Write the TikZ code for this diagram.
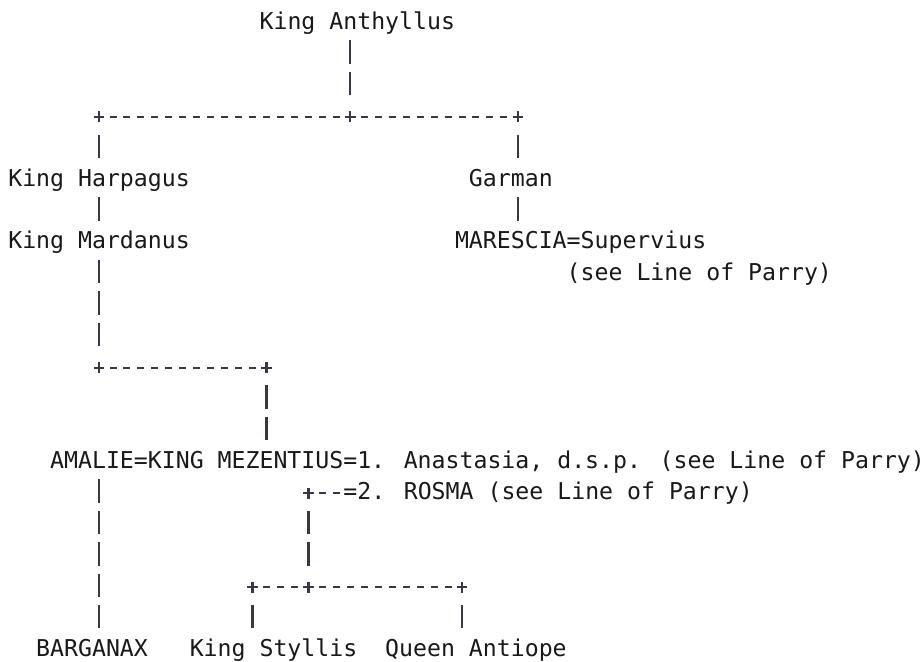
\documentclass[tikz,border=0pt]{standalone}
\usepackage{fontspec}
\newfontfamily\monofam{DejaVu Sans Mono}
\definecolor{textcol}{RGB}{25,25,25}
\definecolor{linecol}{RGB}{55,55,70}
\tikzset{
  person/.style={inner sep=0pt, outer sep=0pt, anchor=west, text height=18.06pt, text depth=5.46pt,
    font=\monofam\fontsize{17.39pt}{21pt}\selectfont, text=textcol},
  junc/.style={inner sep=0pt, outer sep=0pt, minimum width=10.47pt, minimum height=23.52pt,
    path picture={
      \draw[linecol, line width=1.7pt] ([yshift=-1.5pt]path picture bounding box.center) ++(-4pt,0pt) -- ++(8pt,0pt);
      \draw[linecol, line width=1.7pt] ([yshift=-1.5pt]path picture bounding box.center) ++(0pt,-4.2pt) -- ++(0pt,8.4pt);
    }},
  vbar/.style={draw=linecol, line width=1.7pt, dash pattern=on 17.6pt off 5.92pt, dash phase=20.56pt},
  hbar/.style={draw=linecol, line width=1.7pt, dash pattern=on 5.25pt off 5.22pt, dash phase=7.86pt},
}
\begin{document}
\begin{tikzpicture}[x=0.75pt,y=-0.75pt]
\fill[white] (0,0) rectangle (923,661);
\useasboundingbox (0,0) rectangle (923,661);
\begin{scope}[shift={(6.225pt,-15.6pt)}, x=10.47pt, y=-23.52pt]
  % names
  \node[person] (anth)   at (18,0)  {King Anthyllus};
  \node[person] (harp)   at (0,5)   {King Harpagus};
  \node[person] (garman) at (33,5)  {Garman};
  \node[person] (mard)   at (0,7)   {King Mardanus};
  \node[person] (maresc) at (32,7)  {MARESCIA=Supervius};
  \node[person] (parry)  at (40,8)  {(see Line of Parry)};
  \node[person] (mez)    at (3,14)  {AMALIE=KING MEZENTIUS=1. Anastasia, d.s.p. (see Line of Parry)};
  \node[person] (rosma)  at (24,15) {=2. ROSMA (see Line of Parry)};
  \node[person] (barg)   at (2,20)  {BARGANAX};
  \node[person] (styl)   at (13,20) {King Styllis};
  \node[person] (anti)   at (27,20) {Queen Antiope};
  % junctions
  \node[junc] (jl) at (6.5,3)   {};
  \node[junc] (ja) at (24.5,3)  {};
  \node[junc] (jr) at (36.5,3)  {};
  \node[junc] (jb) at (6.5,11)  {};
  \node[junc] (jc) at (18.5,11) {};
  \node[junc] (jd) at (21.5,15) {};
  \node[junc] (je) at (17.5,18) {};
  \node[junc] (jf) at (21.5,18) {};
  \node[junc] (jg) at (32.5,18) {};
  % connectors
  \draw[vbar] (ja |- anth.south) -- (ja.north);
  \draw[hbar] ([yshift=-1.5pt]jl.east) -- ([yshift=-1.5pt]ja.west);
  \draw[hbar] ([yshift=-1.5pt]ja.east) -- ([yshift=-1.5pt]jr.west);
  \draw[vbar] (jl.south) -- (jl |- harp.north);
  \draw[vbar] (jr.south) -- (jr |- garman.north);
  \draw[vbar] (jl |- harp.south) -- (jl |- mard.north);
  \draw[vbar] (jr |- garman.south) -- (jr |- maresc.north);
  \draw[vbar] (jb |- mard.south) -- (jb.north);
  \draw[hbar] ([yshift=-1.5pt]jb.east) -- ([yshift=-1.5pt]jc.west);
  \draw[vbar] (jc.south) -- (jc |- mez.north);
  \draw[vbar] (jb |- mez.south) -- (jb |- barg.north);
  \draw[hbar] ([yshift=-1.5pt]jd.east) -- ([yshift=-1.5pt]rosma.west);
  \draw[vbar] (jd.south) -- (jf.north);
  \draw[hbar] ([yshift=-1.5pt]je.east) -- ([yshift=-1.5pt]jf.west);
  \draw[hbar] ([yshift=-1.5pt]jf.east) -- ([yshift=-1.5pt]jg.west);
  \draw[vbar] (je.south) -- (je |- styl.north);
  \draw[vbar] (jg.south) -- (jg |- anti.north);
\end{scope}
\end{tikzpicture}
\end{document}
